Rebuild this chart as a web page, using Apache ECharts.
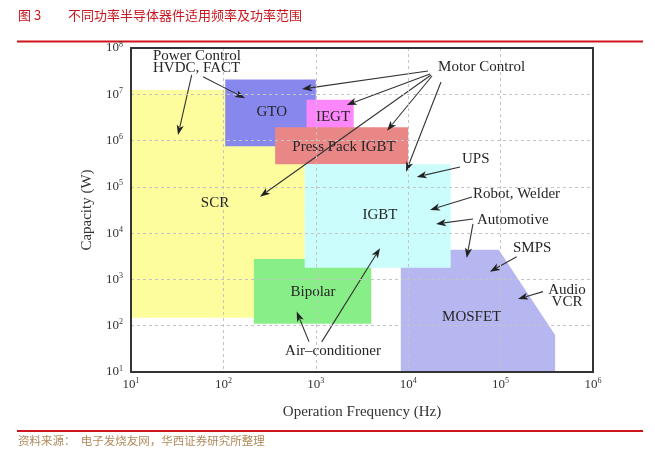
<!DOCTYPE html>
<html><head><meta charset="utf-8">
<script src="https://cdn.jsdelivr.net/npm/echarts@6/dist/echarts.min.js"></script>
<style>html,body{margin:0;padding:0;background:#fff}#c{width:655px;height:457px}</style>
</head><body><div id="c"></div>
<script>
// ---- Data (all positions in log10 units: frequency in Hz, capacity in W) ----
const xTickExp = [1, 2, 3, 4, 5, 6];
const yTickExp = [1, 2, 3, 4, 5, 6, 7, 8];

const regionNames  = ['SCR', 'Bipolar', 'MOSFET', 'GTO', 'IEGT', 'Press Pack IGBT', 'IGBT'];
const regionColors = ['#fdfd9e', '#88ee88', '#b6b6f0', '#8787ee', '#fb87fb', '#e98787', '#ccfdfd'];
const regionLogF = [
  [1, 2.88, 2.88, 1],
  [2.33, 3.60, 3.60, 2.33],
  [3.92, 3.92, 4.98, 5.59, 5.59],
  [2.02, 3.0, 3.0, 2.02],
  [2.9, 3.41, 3.41, 2.9],
  [2.56, 4.0, 4.0, 2.56],
  [2.88, 4.46, 4.46, 2.88]
];
const regionLogP = [
  [2.17, 2.17, 7.09, 7.09],
  [2.04, 2.04, 3.44, 3.44],
  [1, 3.64, 3.64, 1.80, 1],
  [5.88, 5.88, 7.32, 7.32],
  [6.21, 6.21, 6.88, 6.88],
  [5.49, 5.49, 6.29, 6.29],
  [3.25, 3.25, 5.49, 5.49]
];
const regionLabelLogF = [1.909, 2.970, 4.687, 2.523, 3.186, 3.305, 3.695];
const regionLabelLogP = [4.652, 2.737, 2.197, 6.624, 6.516, 5.868, 4.393];

const annoTexts = ['Power Control\nHVDC, FACT', 'Motor Control', 'UPS', 'Robot, Welder', 'Automotive', 'SMPS', 'Audio\nVCR', 'Air\u2013conditioner'];
const annoLogF  = [1.238, 4.323, 4.582, 4.701, 4.745, 5.134, 5.719, 3.186];
const annoLogP  = [7.700, 7.596, 5.603, 4.847, 4.285, 3.687, 2.644, 1.443];
const annoAlign = ['left', 'left', 'left', 'left', 'left', 'left', 'center', 'center'];

const arrowFromF = [1.657, 1.779, 4.214, 4.236, 4.258, 4.355, 4.247, 4.561, 4.690, 4.701, 4.701, 5.174, 5.459, 2.926, 3.064];
const arrowFromP = [7.417, 7.380, 7.503, 7.438, 7.395, 7.266, 7.417, 5.430, 4.782, 4.307, 4.199, 3.492, 2.737, 1.657, 1.650];
const arrowToF   = [1.509, 2.234, 2.851, 3.334, 3.771, 3.976, 2.396, 4.092, 4.236, 4.301, 4.633, 4.885, 5.188, 2.793, 3.695];
const arrowToP   = [6.121, 6.914, 7.114, 6.769, 6.214, 5.328, 4.788, 5.214, 4.501, 4.199, 3.464, 3.168, 2.579, 2.305, 3.674];

const titleText = '不同功率半导体器件适用频率及功率范围';
const sourceText = '资料来源：  电子发烧友网，华西证券研究所整理';

// ---- Chart ----
const P = v => Math.pow(10, v);
const SERIF = '"Liberation Serif", "DejaVu Serif", serif';
const CJK = '"Noto Sans CJK SC", sans-serif';

function expLabel(v) {
  const e = Math.round(Math.log10(v));
  return '{b|10}{s|' + e + '}';
}
const richLbl = {
  b: { fontFamily: SERIF, fontSize: 13, color: '#333' },
  s: { fontFamily: SERIF, fontSize: 8, color: '#333', padding: [0, 0, 7, 0] }
};
const xMin = P(xTickExp[0]), xMax = P(xTickExp[xTickExp.length - 1]);
const yMin = P(yTickExp[0]), yMax = P(yTickExp[yTickExp.length - 1]);
const frameAxis = { show: true, lineStyle: { color: '#333', width: 2 } };

const chart = echarts.init(document.getElementById('c'), null, { renderer: 'canvas' });

const option = {
  animation: false,
  backgroundColor: '#fff',
  grid: { left: 131, right: 62, top: 48, bottom: 85 },
  xAxis: [{
    type: 'log', logBase: 10, min: xMin, max: xMax, splitNumber: 5,
    name: 'Operation Frequency (Hz)', nameLocation: 'middle', nameGap: 33,
    nameTextStyle: { fontFamily: SERIF, fontSize: 15, color: '#333' },
    axisLine: frameAxis,
    axisTick: { show: false },
    axisLabel: { formatter: expLabel, rich: richLbl, margin: 5 },
    splitLine: { show: true, lineStyle: { color: '#c4c4c4', type: [3, 3], width: 1 } },
    z: 10
  }, {
    type: 'log', logBase: 10, min: xMin, max: xMax, position: 'top',
    axisLine: frameAxis, axisTick: { show: false }, axisLabel: { show: false }, splitLine: { show: false }, z: 10
  }],
  yAxis: [{
    type: 'log', logBase: 10, min: yMin, max: yMax, splitNumber: 7,
    name: 'Capacity (W)', nameLocation: 'middle', nameGap: 36,
    nameTextStyle: { fontFamily: SERIF, fontSize: 15, color: '#333' },
    axisLine: frameAxis,
    axisTick: { show: false },
    axisLabel: { formatter: expLabel, rich: richLbl, margin: 8 },
    splitLine: { show: true, lineStyle: { color: '#c4c4c4', type: [3, 3], width: 1 } },
    z: 10
  }, {
    type: 'log', logBase: 10, min: yMin, max: yMax, position: 'right',
    axisLine: frameAxis, axisTick: { show: false }, axisLabel: { show: false }, splitLine: { show: false }, z: 10
  }],
  series: [
    {
      type: 'custom', coordinateSystem: 'cartesian2d', z: 2, silent: true,
      data: regionNames.map((n, i) => ({ name: n, value: [P(regionLabelLogF[i]), P(regionLabelLogP[i])] })),
      renderItem: function (params, api) {
        const i = params.dataIndex;
        const pts = regionLogF[i].map((f, k) => api.coord([P(f), P(regionLogP[i][k])]));
        return { type: 'polygon', shape: { points: pts }, style: { fill: regionColors[i], stroke: null } };
      }
    },
    {
      type: 'custom', coordinateSystem: 'cartesian2d', z: 3, silent: true,
      data: regionNames.map((n, i) => ({ name: n, value: [P(regionLabelLogF[i]), P(regionLabelLogP[i])] })),
      renderItem: function (params, api) {
        const i = params.dataIndex;
        const p = api.coord([P(regionLabelLogF[i]), P(regionLabelLogP[i])]);
        return { type: 'text', style: { text: regionNames[i], x: p[0], y: p[1], align: 'center', verticalAlign: 'middle', font: '15px ' + SERIF, fill: '#262626' } };
      }
    },
    {
      type: 'custom', coordinateSystem: 'cartesian2d', z: 4, silent: true,
      data: annoTexts.map((t, i) => ({ name: t, value: [P(annoLogF[i]), P(annoLogP[i])] })),
      renderItem: function (params, api) {
        const i = params.dataIndex;
        const p = api.coord([P(annoLogF[i]), P(annoLogP[i])]);
        return { type: 'text', style: { text: annoTexts[i], x: p[0], y: p[1], align: annoAlign[i], verticalAlign: 'middle', font: '15px ' + SERIF, lineHeight: 11.5, fill: '#262626' } };
      }
    },
    {
      type: 'custom', coordinateSystem: 'cartesian2d', z: 5, silent: true,
      data: arrowFromF.map((f, i) => ({ value: [P(f), P(arrowFromP[i])] })),
      renderItem: function (params, api) {
        const i = params.dataIndex;
        const a = api.coord([P(arrowFromF[i]), P(arrowFromP[i])]);
        const b = api.coord([P(arrowToF[i]), P(arrowToP[i])]);
        const dx = b[0] - a[0], dy = b[1] - a[1];
        const L = Math.sqrt(dx * dx + dy * dy);
        const ux = dx / L, uy = dy / L;
        const hl = 10, hw = 3.6;
        const bx = b[0] - ux * hl, by = b[1] - uy * hl;
        return {
          type: 'group',
          children: [
            { type: 'line', shape: { x1: a[0], y1: a[1], x2: bx + ux * 2, y2: by + uy * 2 }, style: { stroke: '#333', lineWidth: 1.1 } },
            { type: 'polygon', shape: { points: [[b[0], b[1]], [bx - uy * hw, by + ux * hw], [bx + ux * 2.5, by + uy * 2.5], [bx + uy * hw, by - ux * hw]] }, style: { fill: '#222' } }
          ]
        };
      }
    }
  ],
  graphic: [
    { type: 'text', left: 18, top: 9, style: { text: '图 3', font: '13px ' + CJK, fill: '#c8161e' } },
    { type: 'text', left: 68, top: 9, style: { text: titleText, font: '13px ' + CJK, fill: '#c8161e' } },
    { type: 'rect', shape: { x: 17, y: 40.5, width: 626, height: 2 }, style: { fill: '#d0141c' } },
    { type: 'rect', shape: { x: 17, y: 430, width: 626, height: 2 }, style: { fill: '#d0141c' } },
    { type: 'text', left: 18, top: 435, style: { text: sourceText, font: '11.5px ' + CJK, fill: '#b08a5c' } }
  ]
};
chart.setOption(option);
</script>
</body></html>
